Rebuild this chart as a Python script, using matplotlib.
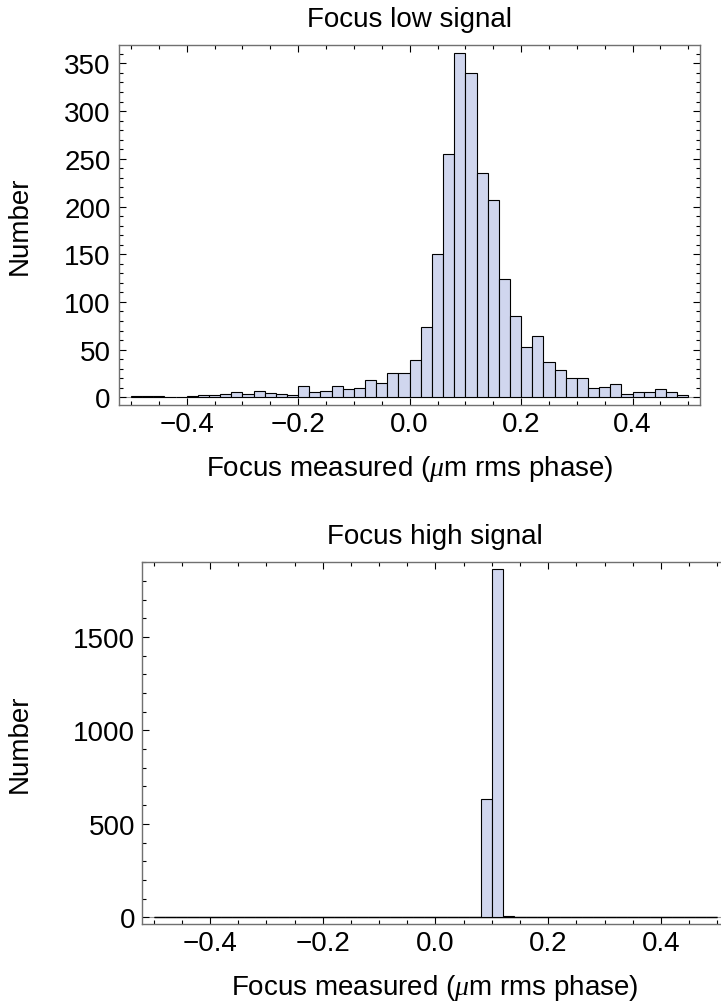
import numpy as np
import matplotlib
matplotlib.use("Agg")
import matplotlib.pyplot as plt
from matplotlib.ticker import MultipleLocator

plt.rcParams['font.family'] = ['Liberation Sans', 'DejaVu Sans']
plt.rcParams['mathtext.fontset'] = 'custom'
plt.rcParams['mathtext.it'] = 'Liberation Serif:italic'

# bin edges: -0.5 .. 0.5, width 0.02
edges = np.round(np.arange(-0.5, 0.5001, 0.02), 2)

# counts per bin, focus low signal
low_counts = [1, 1, 1, 0, 0, 1, 3, 3, 4, 6,
              4, 7, 5, 4, 2, 12, 6, 7, 12, 9,
              10, 18, 15, 26, 26, 39, 74, 150, 255, 361,
              340, 235, 207, 124, 85, 53, 64, 37, 29, 20,
              20, 10, 11, 14, 4, 6, 6, 9, 6, 2]

# counts per bin, focus high signal
high_counts = [0] * 50
high_counts[28] = 2
high_counts[29] = 632
high_counts[30] = 1864
high_counts[31] = 6

bar_color = '#d0d6ee'
frame_color = '#707070'
xlabel = r'Focus measured ($\mu$m rms phase)'

fig = plt.figure(figsize=(7.21, 10.04), dpi=100)
ax1 = fig.add_axes([119/721, 1-406/1004, 581/721, 360.3/1004])
ax2 = fig.add_axes([141.7/721, 1-925/1004, 587/721, 362/1004])


def style(ax, ymajor, yminor, ypad):
    for s in ax.spines.values():
        s.set_color(frame_color)
        s.set_linewidth(1.0)
    ax.xaxis.set_major_locator(MultipleLocator(0.2))
    ax.xaxis.set_minor_locator(MultipleLocator(0.05))
    ax.yaxis.set_major_locator(MultipleLocator(ymajor))
    ax.yaxis.set_minor_locator(MultipleLocator(yminor))
    ax.tick_params(which='both', direction='in', top=True, right=True, labelsize=20, color='black')
    ax.tick_params(which='major', length=4.8, width=0.8)
    ax.tick_params(which='minor', length=2.7, width=0.8)
    ax.tick_params(axis='x', pad=4)
    ax.tick_params(axis='y', pad=ypad)
    ax.set_xticklabels
    ax.xaxis.set_major_formatter(lambda v, p: f'{v:.1f}'.replace('-', '\u2212'))


# top histogram
ax1.axhline(0, color='#9a9a9a', lw=0.8, zorder=0.5)
ax1.bar(edges[:-1], low_counts, width=0.02, align='edge', color=bar_color,
        edgecolor='black', linewidth=0.8)
ax1.set_xlim(-0.5215, 0.521)
ax1.set_ylim(-8, 369.6)
style(ax1, 50, 10, 6)
ax1.set_title('Focus low signal', fontsize=20, pad=13.7)
ax1.set_xlabel(xlabel, fontsize=20, labelpad=12)
ax1.set_ylabel('Number', fontsize=20)
ax1.yaxis.set_label_coords((33-119)/581, 0.5)

# bottom histogram
ax2.axhline(0, color='#9a9a9a', lw=0.8, zorder=0.5)
ax2.hlines(0, edges[0], edges[-1], color='#222222', lw=1.0, zorder=1)
ax2.bar(edges[:-1], high_counts, width=0.02, align='edge', color=bar_color,
        edgecolor='black', linewidth=0.8)
ax2.set_xlim(-0.521, 0.52)
ax2.set_ylim(-36, 1901)
style(ax2, 500, 100, 4.8)
ax2.set_title('Focus high signal', fontsize=20, pad=13.7)
ax2.set_xlabel(xlabel, fontsize=20, labelpad=12)
ax2.set_ylabel('Number', fontsize=20)
ax2.yaxis.set_label_coords((33-141.7)/587, 0.5)

fig.savefig('out.png', dpi=100)
